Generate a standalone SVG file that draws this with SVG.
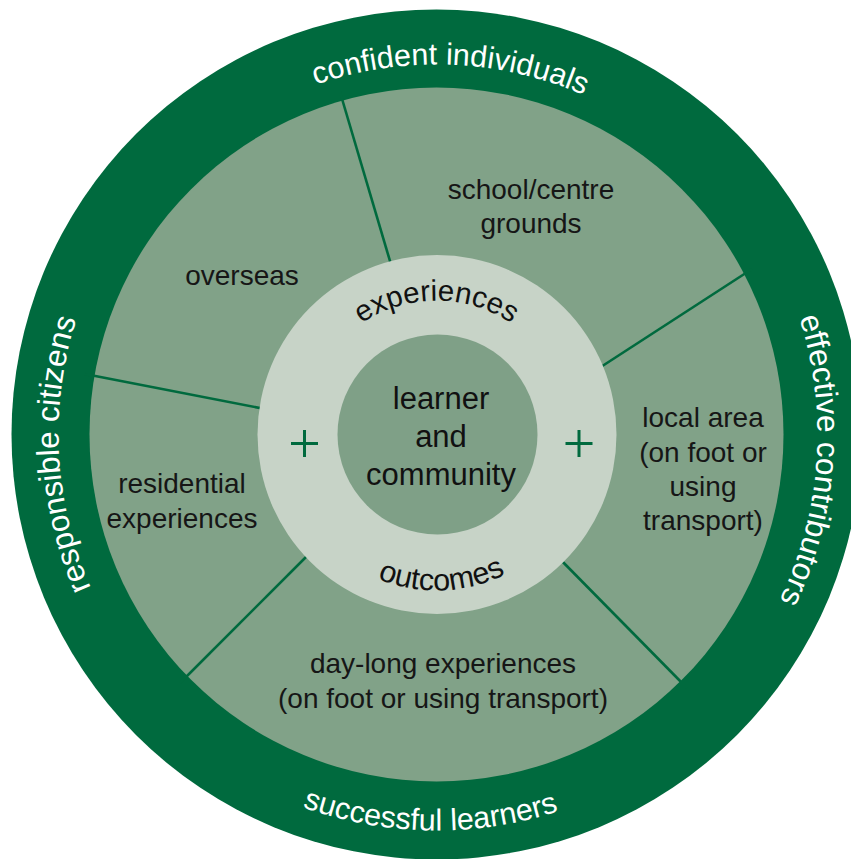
<svg xmlns="http://www.w3.org/2000/svg" width="851" height="859" viewBox="0 0 851 859">
<style>
.lbl{font-family:"Liberation Sans",Arial,sans-serif;font-size:28px;fill:#161616;text-anchor:middle}
.ctr{font-family:"Liberation Sans",Arial,sans-serif;font-size:31px;fill:#111;text-anchor:middle}
.ring{font-family:"Liberation Sans",Arial,sans-serif;font-size:29.5px;fill:#111;text-anchor:middle}
.band{font-family:"Liberation Sans",Arial,sans-serif;font-size:30.5px;fill:#ffffff;text-anchor:middle}
.div{stroke:#006a3e;stroke-width:2.6;fill:none}
.plus{stroke:#006a3e;stroke-width:3;fill:none}
</style>
<defs>
<path id="pTop" d="M123.4,237.3 A370,370 0 0 1 763.8,261.9"/>
<path id="pBot" d="M90.5,627.1 A396,396 0 0 0 776.3,637.8"/>
<path id="pLeft" d="M265.5,771.6 A378,378 0 0 1 230.1,117.8"/>
<path id="pRight" d="M649.6,118.7 A381,381 0 0 1 603.5,776.9"/>
<path id="pExp" d="M320.5,367.5 A134,134 0 0 1 552.5,367.5"/>
<path id="pOut" d="M304.2,517.2 A156,156 0 0 0 574.2,507.7"/>
</defs>
<g id="outer-band">
<circle cx="436.5" cy="434.5" r="425" fill="#006a3e"/>
<text class="band"><textPath href="#pTop" startOffset="50%">confident individuals</textPath></text>
<text class="band"><textPath href="#pBot" startOffset="50%">successful learners</textPath></text>
<text class="band" style="font-size:31.5px"><textPath href="#pLeft" startOffset="50%">responsible citizens</textPath></text>
<text class="band" style="font-size:31.5px"><textPath href="#pRight" startOffset="50%">effective contributors</textPath></text>
</g>
<g id="sectors">
<circle cx="436.5" cy="434.5" r="347" fill="#81a288"/>
</g>
<g id="connectors">
<line class="div" x1="340" y1="92" x2="395" y2="278"/>
<line class="div" x1="752" y1="269" x2="590" y2="374"/>
<line class="div" x1="85" y1="374" x2="270" y2="410"/>
<line class="div" x1="180" y1="683" x2="315" y2="548"/>
<line class="div" x1="687" y1="688" x2="555" y2="554"/>
</g>
<g id="school-centre-grounds">
<text class="lbl" x="531" y="199">school/centre</text>
<text class="lbl" x="531" y="233">grounds</text>
</g>
<g id="overseas">
<text class="lbl" x="242" y="285">overseas</text>
</g>
<g id="residential-experiences">
<text class="lbl" x="182" y="493">residential</text>
<text class="lbl" x="182" y="528">experiences</text>
</g>
<g id="day-long-experiences">
<text class="lbl" x="443" y="673">day-long experiences</text>
<text class="lbl" x="443" y="708">(on foot or using transport)</text>
</g>
<g id="local-area">
<text class="lbl" x="703" y="427">local area</text>
<text class="lbl" x="703" y="462">(on foot or</text>
<text class="lbl" x="703" y="496">using</text>
<text class="lbl" x="703" y="530">transport)</text>
</g>
<g id="experiences-outcomes-ring">
<circle cx="437" cy="434.5" r="179.5" fill="#c7d3c7"/>
<text class="ring"><textPath href="#pExp" startOffset="50%">experiences</textPath></text>
<text class="ring" style="font-size:30.5px"><textPath href="#pOut" startOffset="50%">outcomes</textPath></text>
<path class="plus" d="M291,443.5 H318 M304.5,430 V457"/>
<path class="plus" d="M565.5,443.5 H592.5 M579,430 V457"/>
</g>
<g id="learner-and-community">
<circle cx="437.5" cy="434.5" r="100" fill="#7fa087"/>
<text class="ctr" x="441" y="409">learner</text>
<text class="ctr" x="441" y="447">and</text>
<text class="ctr" x="441" y="485">community</text>
</g>
</svg>
